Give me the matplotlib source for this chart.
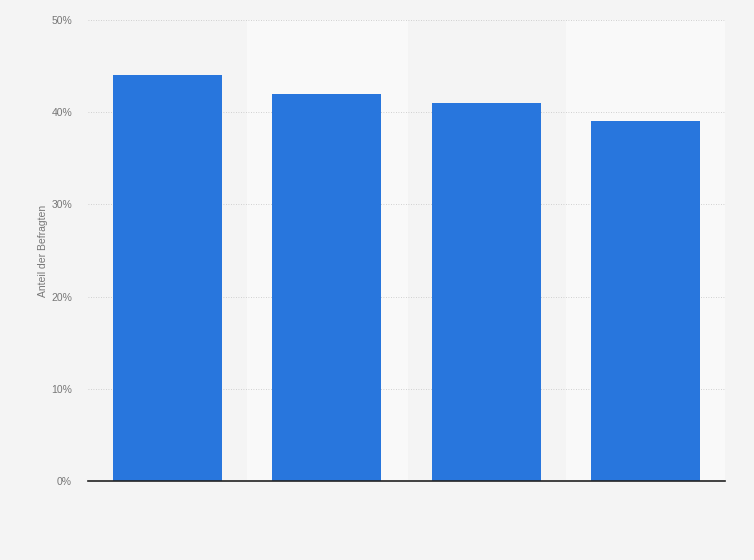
import matplotlib.pyplot as plt
import numpy as np

plt.rcParams['font.family'] = ['Liberation Sans', 'DejaVu Sans']

# values (no category labels are shown)
categories = ['', '', '', '']
values = [44, 42, 41, 39]
y_ticks = [0, 10, 20, 30, 40, 50]
y_tick_labels = ['0%', '10%', '20%', '30%', '40%', '50%']

fig = plt.figure(figsize=(7.54, 5.6), dpi=100)
fig.patch.set_facecolor('#f4f4f4')
ax = fig.add_axes([88 / 754, 1 - 481 / 560, (725 - 88) / 754, (481 - 20) / 560])
ax.set_facecolor('#f4f4f4')

x = np.arange(len(values))

# alternating lighter category bands
for i in x:
    if i % 2 == 1:
        ax.axvspan(i - 0.5, i + 0.5, color='#f9f9f9', zorder=0)

ax.bar(x, values, width=0.685, color='#2876dd', zorder=3)

ax.set_xlim(-0.5, len(values) - 0.5)
ax.set_ylim(0, 50)
ax.set_yticks(y_ticks)
ax.set_yticklabels(y_tick_labels, fontsize=7.5, color='#777777')
ax.set_xticks(x)
ax.set_xticklabels(categories)
ax.tick_params(axis='both', length=0, pad=11.5)

ax.grid(axis='y', linestyle=(0, (1, 2)), color='#c4c4c4', linewidth=0.6, zorder=1)
for s in ['top', 'right', 'left']:
    ax.spines[s].set_visible(False)
ax.spines['bottom'].set_color('#222222')
ax.spines['bottom'].set_linewidth(1.2)
ax.spines['bottom'].set_zorder(4)

ax.set_ylabel('Anteil der Befragten', fontsize=7.5, color='#777777')
ax.yaxis.set_label_coords(-0.063, 0.5)

fig.savefig('out.png', dpi=100, facecolor=fig.get_facecolor())
